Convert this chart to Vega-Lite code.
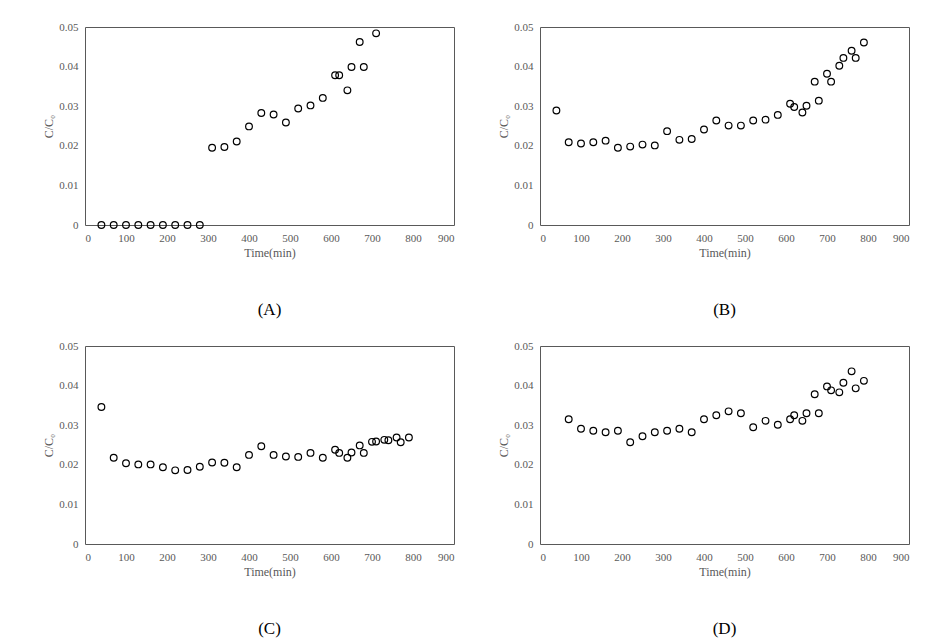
{
  "$schema": "https://vega.github.io/schema/vega-lite/v6.json",
  "padding": {"left": 42, "top": 20, "right": 5, "bottom": 5},
  "background": "white",
  "datasets": {
    "pts": [
      {"panel": "A", "t": 40, "c": 0}, {"panel": "A", "t": 70, "c": 0}, {"panel": "A", "t": 100, "c": 0},
      {"panel": "A", "t": 130, "c": 0}, {"panel": "A", "t": 160, "c": 0}, {"panel": "A", "t": 190, "c": 0},
      {"panel": "A", "t": 220, "c": 0}, {"panel": "A", "t": 250, "c": 0}, {"panel": "A", "t": 280, "c": 0},
      {"panel": "A", "t": 310, "c": 0.0195}, {"panel": "A", "t": 340, "c": 0.0197}, {"panel": "A", "t": 370, "c": 0.0211},
      {"panel": "A", "t": 400, "c": 0.0249}, {"panel": "A", "t": 430, "c": 0.0283}, {"panel": "A", "t": 460, "c": 0.0279},
      {"panel": "A", "t": 490, "c": 0.0259}, {"panel": "A", "t": 520, "c": 0.0294}, {"panel": "A", "t": 550, "c": 0.0302},
      {"panel": "A", "t": 580, "c": 0.0321}, {"panel": "A", "t": 610, "c": 0.0378}, {"panel": "A", "t": 620, "c": 0.0378},
      {"panel": "A", "t": 640, "c": 0.034}, {"panel": "A", "t": 650, "c": 0.0399}, {"panel": "A", "t": 670, "c": 0.0462},
      {"panel": "A", "t": 680, "c": 0.0399}, {"panel": "A", "t": 710, "c": 0.0484},

      {"panel": "B", "t": 40, "c": 0.0289}, {"panel": "B", "t": 70, "c": 0.0209}, {"panel": "B", "t": 100, "c": 0.0206},
      {"panel": "B", "t": 130, "c": 0.0209}, {"panel": "B", "t": 160, "c": 0.0213}, {"panel": "B", "t": 190, "c": 0.0195},
      {"panel": "B", "t": 220, "c": 0.0198}, {"panel": "B", "t": 250, "c": 0.0203}, {"panel": "B", "t": 280, "c": 0.0201},
      {"panel": "B", "t": 310, "c": 0.0237}, {"panel": "B", "t": 340, "c": 0.0215}, {"panel": "B", "t": 370, "c": 0.0217},
      {"panel": "B", "t": 400, "c": 0.0241}, {"panel": "B", "t": 430, "c": 0.0264}, {"panel": "B", "t": 460, "c": 0.0251},
      {"panel": "B", "t": 490, "c": 0.0251}, {"panel": "B", "t": 520, "c": 0.0264}, {"panel": "B", "t": 550, "c": 0.0266},
      {"panel": "B", "t": 580, "c": 0.0278}, {"panel": "B", "t": 610, "c": 0.0306}, {"panel": "B", "t": 620, "c": 0.0298},
      {"panel": "B", "t": 640, "c": 0.0284}, {"panel": "B", "t": 650, "c": 0.0301}, {"panel": "B", "t": 670, "c": 0.0362},
      {"panel": "B", "t": 680, "c": 0.0314}, {"panel": "B", "t": 700, "c": 0.0382}, {"panel": "B", "t": 710, "c": 0.0362},
      {"panel": "B", "t": 730, "c": 0.0402}, {"panel": "B", "t": 740, "c": 0.0422}, {"panel": "B", "t": 760, "c": 0.044},
      {"panel": "B", "t": 770, "c": 0.0422}, {"panel": "B", "t": 790, "c": 0.0461},

      {"panel": "C", "t": 40, "c": 0.0346}, {"panel": "C", "t": 70, "c": 0.0218}, {"panel": "C", "t": 100, "c": 0.0204},
      {"panel": "C", "t": 130, "c": 0.0201}, {"panel": "C", "t": 160, "c": 0.0201}, {"panel": "C", "t": 190, "c": 0.0194},
      {"panel": "C", "t": 220, "c": 0.0186}, {"panel": "C", "t": 250, "c": 0.0187}, {"panel": "C", "t": 280, "c": 0.0195},
      {"panel": "C", "t": 310, "c": 0.0206}, {"panel": "C", "t": 340, "c": 0.0205}, {"panel": "C", "t": 370, "c": 0.0194},
      {"panel": "C", "t": 400, "c": 0.0225}, {"panel": "C", "t": 430, "c": 0.0247}, {"panel": "C", "t": 460, "c": 0.0225},
      {"panel": "C", "t": 490, "c": 0.0221}, {"panel": "C", "t": 520, "c": 0.022}, {"panel": "C", "t": 550, "c": 0.023},
      {"panel": "C", "t": 580, "c": 0.0218}, {"panel": "C", "t": 610, "c": 0.0238}, {"panel": "C", "t": 620, "c": 0.023},
      {"panel": "C", "t": 640, "c": 0.0218}, {"panel": "C", "t": 650, "c": 0.0231}, {"panel": "C", "t": 670, "c": 0.0249},
      {"panel": "C", "t": 680, "c": 0.023}, {"panel": "C", "t": 700, "c": 0.0258}, {"panel": "C", "t": 710, "c": 0.0259},
      {"panel": "C", "t": 730, "c": 0.0263}, {"panel": "C", "t": 740, "c": 0.0262}, {"panel": "C", "t": 760, "c": 0.0269},
      {"panel": "C", "t": 770, "c": 0.0257}, {"panel": "C", "t": 790, "c": 0.0269},

      {"panel": "D", "t": 70, "c": 0.0315}, {"panel": "D", "t": 100, "c": 0.0291}, {"panel": "D", "t": 130, "c": 0.0286},
      {"panel": "D", "t": 160, "c": 0.0282}, {"panel": "D", "t": 190, "c": 0.0286}, {"panel": "D", "t": 220, "c": 0.0257},
      {"panel": "D", "t": 250, "c": 0.0272}, {"panel": "D", "t": 280, "c": 0.0282}, {"panel": "D", "t": 310, "c": 0.0286},
      {"panel": "D", "t": 340, "c": 0.0291}, {"panel": "D", "t": 370, "c": 0.0282}, {"panel": "D", "t": 400, "c": 0.0315},
      {"panel": "D", "t": 430, "c": 0.0325}, {"panel": "D", "t": 460, "c": 0.0335}, {"panel": "D", "t": 490, "c": 0.033},
      {"panel": "D", "t": 520, "c": 0.0295}, {"panel": "D", "t": 550, "c": 0.0311}, {"panel": "D", "t": 580, "c": 0.0301},
      {"panel": "D", "t": 610, "c": 0.0315}, {"panel": "D", "t": 620, "c": 0.0325}, {"panel": "D", "t": 640, "c": 0.0311},
      {"panel": "D", "t": 650, "c": 0.033}, {"panel": "D", "t": 670, "c": 0.0378}, {"panel": "D", "t": 680, "c": 0.033},
      {"panel": "D", "t": 700, "c": 0.0398}, {"panel": "D", "t": 710, "c": 0.0388}, {"panel": "D", "t": 730, "c": 0.0383},
      {"panel": "D", "t": 740, "c": 0.0407}, {"panel": "D", "t": 760, "c": 0.0436}, {"panel": "D", "t": 770, "c": 0.0393},
      {"panel": "D", "t": 790, "c": 0.0412}
    ]
  },
  "columns": 2,
  "spacing": {"column": 42, "row": 20},
  "concat": [
    {
      "data": {"name": "pts"},
      "transform": [{"filter": "datum.panel === 'A'"}],
      "width": 369, "height": 198,
      "title": {"text": "(A)"},
      "mark": {"type": "point", "shape": "circle", "filled": false, "color": "black", "strokeWidth": 1.2, "size": 45, "opacity": 1},
      "encoding": {
        "x": {"field": "t", "type": "quantitative", "title": "Time(min)", "scale": {"domain": [0, 900], "nice": false}, "axis": {"values": [0, 100, 200, 300, 400, 500, 600, 700, 800, 900]}},
        "y": {"field": "c", "type": "quantitative", "title": "C/C₀", "scale": {"domain": [0, 0.05], "nice": false}, "axis": {"values": [0, 0.01, 0.02, 0.03, 0.04, 0.05], "format": ".2~f"}}
      }
    },
    {
      "data": {"name": "pts"},
      "transform": [{"filter": "datum.panel === 'B'"}],
      "width": 369, "height": 198,
      "title": {"text": "(B)"},
      "mark": {"type": "point", "shape": "circle", "filled": false, "color": "black", "strokeWidth": 1.2, "size": 45, "opacity": 1},
      "encoding": {
        "x": {"field": "t", "type": "quantitative", "title": "Time(min)", "scale": {"domain": [0, 900], "nice": false}, "axis": {"values": [0, 100, 200, 300, 400, 500, 600, 700, 800, 900]}},
        "y": {"field": "c", "type": "quantitative", "title": "C/C₀", "scale": {"domain": [0, 0.05], "nice": false}, "axis": {"values": [0, 0.01, 0.02, 0.03, 0.04, 0.05], "format": ".2~f"}}
      }
    },
    {
      "data": {"name": "pts"},
      "transform": [{"filter": "datum.panel === 'C'"}],
      "width": 369, "height": 198,
      "title": {"text": "(C)"},
      "mark": {"type": "point", "shape": "circle", "filled": false, "color": "black", "strokeWidth": 1.2, "size": 45, "opacity": 1},
      "encoding": {
        "x": {"field": "t", "type": "quantitative", "title": "Time(min)", "scale": {"domain": [0, 900], "nice": false}, "axis": {"values": [0, 100, 200, 300, 400, 500, 600, 700, 800, 900]}},
        "y": {"field": "c", "type": "quantitative", "title": "C/C₀", "scale": {"domain": [0, 0.05], "nice": false}, "axis": {"values": [0, 0.01, 0.02, 0.03, 0.04, 0.05], "format": ".2~f"}}
      }
    },
    {
      "data": {"name": "pts"},
      "transform": [{"filter": "datum.panel === 'D'"}],
      "width": 369, "height": 198,
      "title": {"text": "(D)"},
      "mark": {"type": "point", "shape": "circle", "filled": false, "color": "black", "strokeWidth": 1.2, "size": 45, "opacity": 1},
      "encoding": {
        "x": {"field": "t", "type": "quantitative", "title": "Time(min)", "scale": {"domain": [0, 900], "nice": false}, "axis": {"values": [0, 100, 200, 300, 400, 500, 600, 700, 800, 900]}},
        "y": {"field": "c", "type": "quantitative", "title": "C/C₀", "scale": {"domain": [0, 0.05], "nice": false}, "axis": {"values": [0, 0.01, 0.02, 0.03, 0.04, 0.05], "format": ".2~f"}}
      }
    }
  ],
  "config": {
    "font": "Liberation Serif",
    "view": {"stroke": "#595959", "strokeWidth": 1},
    "axis": {
      "grid": false, "ticks": false, "domain": false,
      "labelFont": "Liberation Serif", "labelFontSize": 11, "labelColor": "#595959", "labelPadding": 7,
      "titleFont": "Liberation Serif", "titleFontSize": 12, "titleFontWeight": "normal", "titleColor": "#595959"
    },
    "axisX": {"titlePadding": 4},
    "axisY": {"titlePadding": 3},
    "title": {"orient": "bottom", "anchor": "middle", "font": "Liberation Serif", "fontSize": 17, "fontWeight": "normal", "color": "black", "offset": 44}
  }
}
